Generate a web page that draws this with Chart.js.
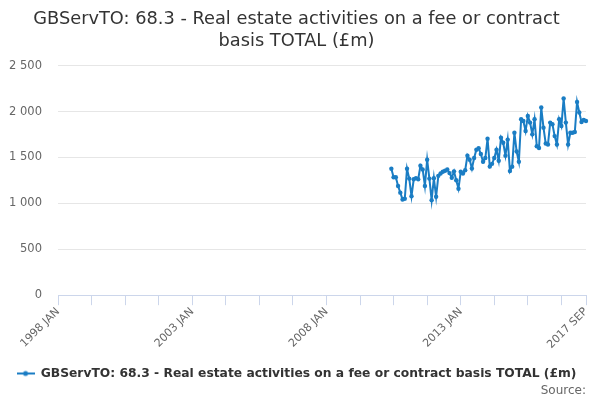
<!DOCTYPE html>
<html>
<head>
<meta charset="utf-8">
<script src="https://cdn.jsdelivr.net/npm/chart.js@4"></script>
<style>
  html, body { margin: 0; padding: 0; background: #fff; }
  #wrap { width: 600px; height: 400px; }
</style>
</head>
<body>
<div id="wrap"><canvas id="myChart"></canvas></div>
<script>
const titleLines = ["GBServTO: 68.3 - Real estate activities on a fee or contract", "basis TOTAL (£m)"];
const seriesName = "GBServTO: 68.3 - Real estate activities on a fee or contract basis TOTAL (£m)";
const monthNames = ["JAN", "FEB", "MAR", "APR", "MAY", "JUN", "JUL", "AUG", "SEP", "OCT", "NOV", "DEC"];
const firstYear = 1998;
const lastLabel = "2017 SEP";
const dataStart = "2010 JUN";
const yTicks = [0, 500, 1000, 1500, 2000, 2500];

// monthly values from 2010 JUN to 2017 SEP
const values = [
  1377, 1285, 1285, 1190, 1117, 1043, 1050, 1377, 1270, 1079,
  1263, 1275, 1263, 1410, 1370, 1190, 1476, 1270, 1035, 1275,
  1072, 1300, 1325, 1344, 1355, 1370, 1330, 1280, 1349, 1252,
  1160, 1344, 1326, 1361, 1520, 1476, 1380, 1494, 1585, 1600,
  1538, 1454, 1494, 1705,
  1402, 1431, 1494, 1585, 1465, 1715, 1660, 1520, 1695, 1352,
  1400, 1770, 1565, 1454, 1916, 1898, 1788, 1952, 1880, 1752,
  1916, 1623, 1604, 2044, 1825, 1652, 1641, 1880, 1862, 1733,
  1641, 1916, 1843, 2143, 1880, 1641, 1770, 1770, 1777, 2106,
  1990, 1887, 1909, 1898
];

// category labels, one per month
let labels = [];
for (let y = firstYear; ; y++) {
  let done = false;
  for (m of monthNames) {
    labels.push(y + " " + m);
    if (y + " " + m == lastLabel) { done = true; break; }
  }
  if (done) break;
}

const startIdx = labels.indexOf(dataStart);
const points = labels.map(function (l, i) {
  return i < startIdx ? null : values[i - startIdx];
});

// legend symbol: short line with a dot
const sym = document.createElement("canvas");
sym.width = 18; sym.height = 10;
const sctx = sym.getContext("2d");
sctx.strokeStyle = "#1a7dc4";
sctx.lineWidth = 2;
sctx.beginPath(); sctx.moveTo(0, 5); sctx.lineTo(18, 5); sctx.stroke();
sctx.fillStyle = "#1a7dc4";
sctx.beginPath(); sctx.arc(9, 5, 2.5, 0, Math.PI * 2); sctx.fill();

const fmt = (v) => String(v).replace(/\B(?=(\d{3})+(?!\d))/g, " ");

const ctx = document.getElementById("myChart").getContext("2d");
myChart = new Chart(ctx, {
  type: "line",
  data: {
    labels: labels,
    datasets: [{
      label: seriesName,
      data: points,
      borderColor: "#1a7dc4",
      backgroundColor: "#1a7dc4",
      borderWidth: 2,
      pointRadius: 2.2,
      pointBorderWidth: 0,
      pointHoverRadius: 3,
      tension: 0,
      spanGaps: false,
    }],
  },
  options: {
    responsive: true,
    maintainAspectRatio: false,
    animation: false,
    layout: { padding: { left: 7, right: 14, top: 4, bottom: 2 } },
    plugins: {
      title: {
        display: true,
        text: titleLines,
        color: "#333333",
        font: { family: "DejaVu Sans", size: 17.8, weight: "normal", lineHeight: 1.2 },
        padding: { top: 5, bottom: 14 },
      },
      subtitle: {
        display: true,
        text: "Source:",
        position: "bottom",
        align: "end",
        color: "#666666",
        font: { family: "DejaVu Sans", size: 12 },
        padding: { top: -6, bottom: 0 },
      },
      legend: {
        position: "bottom",
        labels: {
          usePointStyle: true,
          pointStyle: sym,
          pointStyleWidth: 18,
          color: "#333333",
          font: { family: "DejaVu Sans", size: 12.3, weight: "bold" },
          padding: 4,
        },
      },
      tooltip: { enabled: false },
    },
    scales: {
      x: {
        grid: { drawOnChartArea: false, color: "#ccd6eb", tickLength: 10 },
        border: { color: "#ccd6eb" },
        afterFit: (s) => { s.paddingLeft = 0; s.paddingRight = 0; s.height += 12; },
        ticks: {
          autoSkip: false,
          maxRotation: 45,
          minRotation: 45,
          color: "#666666",
          font: { family: "DejaVu Sans", size: 11 },
          padding: 0,
          callback: function (v, i) {
            if (i == labels.length - 1 || i % 60 == 0) return labels[i];
            if (i % 15 == 0) return "";
            return null;
          },
        },
      },
      y: {
        min: 0,
        max: 2500,
        afterBuildTicks: (s) => { s.ticks = yTicks.map((v) => ({ value: v })); },
        afterFit: (s) => { s.width = 51; },
        grid: { color: "#e6e6e6", drawTicks: false },
        border: { display: false },
        ticks: {
          color: "#666666",
          font: { family: "DejaVu Sans", size: 11.5 },
          padding: 16,
          callback: (v) => fmt(v),
        },
      },
    },
  },
});
</script>
</body>
</html>
